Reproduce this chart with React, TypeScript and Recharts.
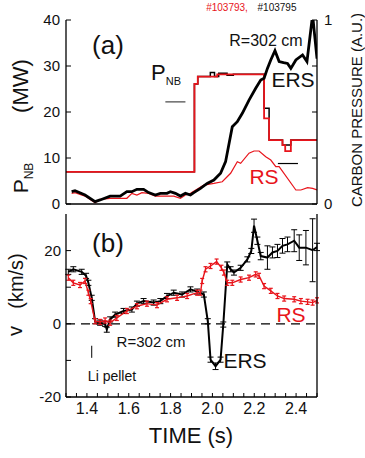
import React from 'react';
import { LineChart, Line, XAxis, YAxis, ReferenceLine, ErrorBar } from 'recharts';

// shared time axis
const timeTicks = [
  1.3, 1.35, 1.4, 1.45, 1.5, 1.55, 1.6, 1.65, 1.7, 1.75, 1.8, 1.85, 1.9,
  1.95, 2.0, 2.05, 2.1, 2.15, 2.2, 2.25, 2.3, 2.35, 2.4, 2.45, 2.5,
];
const timeLabels = ['1.4', '1.6', '1.8', '2.0', '2.2', '2.4'];

// panel (a): neutral beam power, stepped (MW)
const pnbRedTime = [1.3, 1.914, 1.93, 2.023, 2.247, 2.271, 2.335, 2.348, 2.375, 2.5];
const pnbRed = [7, 26.1, 27.7, 28.2, 18.6, 13.9, 12.8, 11.5, 13.9, 13.9];
const pnbBlackTime = [1.3, 1.914, 1.93, 1.99, 2.01, 2.03, 2.07, 2.1, 2.247, 2.271, 2.335, 2.375, 2.5];
const pnbBlack = [7, 26.1, 27.7, 28.6, 27.7, 28.4, 28.0, 28.2, 20.8, 13.9, 12.8, 13.9, 13.9];

// panel (a): carbon pressure (A.U.)
const cpErsTime = [
  1.327, 1.343, 1.391, 1.439, 1.463, 1.511, 1.559, 1.591, 1.615, 1.639, 1.671, 1.695,
  1.727, 1.751, 1.783, 1.799, 1.823, 1.847, 1.871, 1.895, 1.911, 1.943, 1.975, 2.007,
  2.039, 2.063, 2.095, 2.119, 2.143, 2.175, 2.207, 2.231, 2.247, 2.263, 2.279, 2.299,
  2.319, 2.34, 2.359, 2.375, 2.399, 2.431, 2.452, 2.479, 2.5,
];
const cpErs = [
  0.067, 0.072, 0.049, 0.013, 0.022, 0.043, 0.043, 0.067, 0.067, 0.08, 0.08, 0.062,
  0.049, 0.058, 0.058, 0.067, 0.058, 0.043, 0.058, 0.049, 0.062, 0.085, 0.112, 0.13,
  0.167, 0.23, 0.42, 0.447, 0.493, 0.565, 0.629, 0.674, 0.683, 0.737, 0.783, 0.833,
  0.774, 0.768, 0.764, 0.737, 0.783, 0.81, 0.774, 1.027, 0.79,
];
const cpRsTime = [
  1.327, 1.343, 1.391, 1.439, 1.463, 1.511, 1.591, 1.615, 1.639, 1.663, 1.695, 1.727,
  1.815, 1.847, 1.871, 1.895, 1.959, 2.007, 2.047, 2.087, 2.119, 2.135, 2.175, 2.199,
  2.223, 2.255, 2.279, 2.303, 2.319, 2.399, 2.423, 2.455, 2.479, 2.5,
];
const cpRs = [
  0.058, 0.062, 0.043, 0.007, 0.025, 0.031, 0.031, 0.058, 0.049, 0.062, 0.058, 0.043,
  0.043, 0.031, 0.049, 0.058, 0.103, 0.112, 0.121, 0.167, 0.23, 0.221, 0.276, 0.288,
  0.288, 0.257, 0.239, 0.203, 0.203, 0.076, 0.076, 0.089, 0.085, 0.076,
];

// panel (b): rotation velocity (km/s)
const vErsTime = [
  1.311, 1.335, 1.375, 1.396, 1.407, 1.423, 1.439, 1.463, 1.487, 1.495, 1.511, 1.535,
  1.575, 1.615, 1.639, 1.671, 1.719, 1.751, 1.783, 1.815, 1.855, 1.895, 1.927, 1.959,
  1.978, 1.991, 2.015, 2.039, 2.052, 2.071, 2.087, 2.103, 2.135, 2.167, 2.186, 2.199,
  2.215, 2.231, 2.263, 2.287, 2.311, 2.335, 2.359, 2.391, 2.415, 2.447, 2.479, 2.5,
];
const vErs = [
  14.2, 14.9, 14.2, 13.1, 11.2, 7.1, 0.7, 0.3, 0, -1.6, 1.2, 2.5,
  3.5, 3.9, 5.5, 6.2, 5.8, 6.2, 7.6, 8.5, 8.0, 9.4, 8.8, 8.0,
  0.7, -9.8, -11.6, -9.8, -0.2, 16.2, 14.9, 14.0, 15.3, 17.6, 19.9, 26.8,
  22.7, 18.5, 18.1, 19.5, 19.9, 21.3, 21.7, 22.7, 20.8, 20.8, 20.1, 21.0,
];
const vErsErr = [
  0.7, 0.7, 0.7, 0.7, 0.7, 0.7, 0.7, 0.7, 0.7, 0.7, 0.7, 0.7,
  0.7, 0.7, 0.7, 0.7, 0.7, 0.7, 0.7, 0.7, 0.7, 0.7, 0.7, 0.7,
  0.7, 0.7, 0.9, 0.7, 0.7, 0.7, 0.7, 0.7, 0.7, 0.7, 0.7, 1.8,
  1, 1, 3.2, 1.5, 1.8, 2, 2, 3, 3.5, 4.7, 8.6, 1,
];
const vRsTime = [
  1.311, 1.335, 1.367, 1.391, 1.407, 1.418, 1.439, 1.463, 1.487, 1.511, 1.543, 1.591,
  1.639, 1.687, 1.735, 1.783, 1.831, 1.879, 1.927, 1.943, 1.951, 1.967, 1.991, 2.02,
  2.043, 2.055, 2.071, 2.095, 2.135, 2.175, 2.207, 2.223, 2.247, 2.279, 2.311, 2.343,
  2.391, 2.423, 2.455, 2.479, 2.5,
];
const vRs = [
  12.6, 11.2, 10.6, 11.7, 8.5, 6.2, 0.7, 0.5, 0.9, 0.3, 1.6, 3.5,
  4.8, 5.5, 5.1, 6.7, 7.1, 7.6, 8.5, 8.5, 11.7, 14.9, 15.8, 17.0,
  15.3, 14.0, 11.2, 11.2, 12.1, 12.6, 13.5, 13.1, 10.3, 9.0, 7.6, 6.9,
  6.7, 6.2, 6.0, 5.8, 6.4,
];

const pnbRedData = pnbRedTime.map((t, i) => ({ t, y: pnbRed[i] }));
const pnbBlackData = pnbBlackTime.map((t, i) => ({ t, y: pnbBlack[i] }));
const cpErsData = cpErsTime.map((t, i) => ({ t, y: cpErs[i] }));
const cpRsData = cpRsTime.map((t, i) => ({ t, y: cpRs[i] }));
const vErsData = vErsTime.map((t, i) => ({ t, y: vErs[i], e: vErsErr[i] }));
const vRsData = vRsTime.map((t, i) => ({ t, y: vRs[i], e: 0.7 }));

const FONT = '"Liberation Sans", Arial, sans-serif';
const axisLine = { stroke: '#000', strokeWidth: 1.3 };
const tickLine = { stroke: '#000', strokeWidth: 1 };
const tickFont = { fontSize: 15, fill: '#111', fontFamily: FONT };

const timeFmt = (v: number) => {
  const s = v.toFixed(1);
  return timeLabels.includes(s) && Math.abs(v - Number(s)) < 1e-6 ? s : '';
};

function Txt({ x, y, size, color = '#111', children }: { x: number; y: number; size: number; color?: string; children: React.ReactNode }) {
  return (
    <div style={{
      position: 'absolute', left: x, top: y, transform: 'translate(-50%, -50%)',
      fontSize: size, color, fontFamily: FONT, lineHeight: 1, whiteSpace: 'nowrap',
    }}>{children}</div>
  );
}

function RotTxt({ x, y, size, children }: { x: number; y: number; size: number; children: React.ReactNode }) {
  return (
    <div style={{
      position: 'absolute', left: x, top: y, transform: 'translate(-50%, -50%) rotate(-90deg)',
      fontSize: size, color: '#111', fontFamily: FONT, lineHeight: 1, whiteSpace: 'nowrap',
    }}>{children}</div>
  );
}

export default function App() {
  return (
    <div style={{ position: 'absolute', left: 0, top: 0, width: 365, height: 458, background: '#fff', overflow: 'hidden' }}>
      {/* panel (a) */}
      <div style={{ position: 'absolute', left: 0, top: 0 }}>
        <LineChart width={365} height={214} margin={{ top: 20, right: 0, bottom: 0, left: 0 }}>
          <XAxis xAxisId="b" type="number" dataKey="t" domain={[1.3, 2.5]} ticks={timeTicks}
            height={10} tick={false} tickSize={-4} axisLine={axisLine} tickLine={tickLine} interval={0} allowDataOverflow />
          <XAxis xAxisId="top" orientation="top" type="number" dataKey="t" domain={[1.3, 2.5]} ticks={timeTicks}
            height={0} tick={false} tickSize={-4} axisLine={axisLine} tickLine={tickLine} interval={0} allowDataOverflow />
          <YAxis yAxisId="l" width={66} domain={[0, 40]} ticks={[0, 10, 20, 30, 40]} tickSize={-5} tickMargin={11}
            axisLine={axisLine} tickLine={tickLine} tick={tickFont} interval={0} allowDataOverflow />
          <YAxis yAxisId="r" orientation="right" width={48} domain={[0, 1]} ticks={[0, 0.25, 0.5, 0.75, 1]}
            tickFormatter={(v: number) => (v === 0 || v === 1 ? String(v) : '')}
            tickSize={-5} tickMargin={12} axisLine={axisLine} tickLine={tickLine} tick={tickFont} interval={0} allowDataOverflow />
          <ReferenceLine xAxisId="b" yAxisId="l" segment={[{ x: 1.775, y: 22.2 }, { x: 1.871, y: 22.2 }]} stroke="#444" strokeWidth={1.2} />
          <ReferenceLine xAxisId="b" yAxisId="l" segment={[{ x: 2.313, y: 8.8 }, { x: 2.409, y: 8.8 }]} stroke="#000" strokeWidth={1.2} />
          <Line xAxisId="b" yAxisId="l" data={pnbBlackData} dataKey="y" type="stepAfter" stroke="#000" strokeWidth={1.5} dot={false} isAnimationActive={false} />
          <Line xAxisId="b" yAxisId="l" data={pnbRedData} dataKey="y" type="stepAfter" stroke="#e8141b" strokeWidth={1.8} dot={false} isAnimationActive={false} />
          <Line xAxisId="b" yAxisId="r" data={cpRsData} dataKey="y" type="linear" stroke="#e8141b" strokeWidth={1.2} dot={false} isAnimationActive={false} />
          <Line xAxisId="b" yAxisId="r" data={cpErsData} dataKey="y" type="linear" stroke="#000" strokeWidth={2.8} dot={false} isAnimationActive={false} />
        </LineChart>
      </div>

      {/* panel (b) */}
      <div style={{ position: 'absolute', left: 0, top: 210 }}>
        <LineChart width={365} height={248} margin={{ top: 4, right: 0, bottom: 0, left: 0 }}>
          <XAxis xAxisId="b" type="number" dataKey="t" domain={[1.3, 2.5]} ticks={timeTicks} tickFormatter={timeFmt}
            height={61} tickSize={-4} tickMargin={10} axisLine={axisLine} tickLine={tickLine}
            tick={{ ...tickFont, fontSize: 16 }} interval={0} allowDataOverflow />
          <XAxis xAxisId="top" orientation="top" type="number" dataKey="t" domain={[1.3, 2.5]} ticks={timeTicks}
            height={0} tick={false} tickSize={-4} axisLine={axisLine} tickLine={tickLine} interval={0} allowDataOverflow />
          <YAxis yAxisId="l" width={66} domain={[-20, 30]} ticks={[-20, -10, 0, 10, 20]}
            tickFormatter={(v: number) => (v % 20 === 0 ? String(v) : '')}
            tickSize={-5} tickMargin={10} axisLine={axisLine} tickLine={tickLine} tick={tickFont} interval={0} allowDataOverflow />
          <YAxis yAxisId="r" orientation="right" width={48} domain={[-20, 30]} ticks={[-20, -10, 0, 10, 20]}
            tick={false} tickSize={-5} axisLine={axisLine} tickLine={tickLine} interval={0} allowDataOverflow />
          <ReferenceLine xAxisId="b" yAxisId="l" y={0} stroke="#000" strokeWidth={1.3} strokeDasharray="9 6" />
          <ReferenceLine xAxisId="b" yAxisId="l" segment={[{ x: 1.423, y: -6 }, { x: 1.423, y: -9.3 }]} stroke="#000" strokeWidth={1} />
          <Line xAxisId="b" yAxisId="l" data={vErsData} dataKey="y" type="linear" stroke="#000" strokeWidth={2} dot={false} isAnimationActive={false}>
            <ErrorBar dataKey="e" width={3} stroke="#000" strokeWidth={1} direction="y" />
          </Line>
          <Line xAxisId="b" yAxisId="l" data={vRsData} dataKey="y" type="linear" stroke="#e8141b" strokeWidth={1.4} dot={false} isAnimationActive={false}>
            <ErrorBar dataKey="e" width={2} stroke="#e8141b" strokeWidth={1.2} direction="y" />
          </Line>
        </LineChart>
      </div>

      {/* annotations */}
      <Txt x={227} y={8} size={10} color="#e8141b">#103793,</Txt>
      <Txt x={277} y={8} size={10}>#103795</Txt>

      <Txt x={108} y={45} size={26}>(a)</Txt>
      <Txt x={266} y={41} size={16}>R=302 cm</Txt>
      <Txt x={293} y={79} size={21}>ERS</Txt>
      <Txt x={264} y={176} size={21} color="#e8141b">RS</Txt>
      <div style={{ position: 'absolute', left: 151, top: 62, fontFamily: FONT, color: '#111', lineHeight: 1, whiteSpace: 'nowrap' }}>
        <span style={{ fontSize: 22 }}>P</span><span style={{ fontSize: 11, position: 'relative', top: 5 }}>NB</span>
      </div>

      <Txt x={108} y={243} size={26}>(b)</Txt>
      <Txt x={291} y={314} size={21} color="#e8141b">RS</Txt>
      <Txt x={245} y={360} size={21}>ERS</Txt>
      <Txt x={151} y={341} size={15}>R=302 cm</Txt>
      <Txt x={112} y={376} size={14}>Li pellet</Txt>

      <Txt x={191} y={436} size={22}>TIME (s)</Txt>

      <RotTxt x={20} y={178} size={21}>
        <span>P</span><span style={{ fontSize: 12, position: 'relative', top: 5 }}>NB</span>
      </RotTxt>
      <RotTxt x={21} y={86} size={22}>(MW)</RotTxt>
      <RotTxt x={16} y={281} size={20}>(km/s)</RotTxt>
      <RotTxt x={15} y={331} size={20}>v</RotTxt>
      <RotTxt x={356} y={110} size={15}>CARBON PRESSURE (A.U.)</RotTxt>
    </div>
  );
}
